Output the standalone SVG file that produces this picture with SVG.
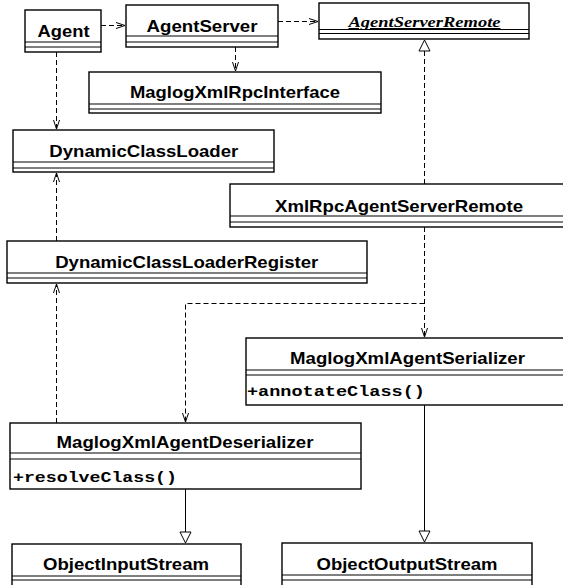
<svg xmlns="http://www.w3.org/2000/svg" width="563" height="585" viewBox="0 0 563 585">
  <style>
    .box { fill: #fff; stroke: #000; stroke-width: 1.4; }
    .sep { stroke: #000; stroke-width: 1.2; fill: none; }
    .name { font-family: "Liberation Sans", Arial, sans-serif; font-weight: bold; font-size: 16.5px; fill: #000; text-anchor: middle; }
    .iface { font-family: "Liberation Serif", "Times New Roman", serif; font-weight: bold; font-style: italic; font-size: 15.5px; fill: #000; text-anchor: middle; text-decoration: underline; }
    .op { font-family: "Liberation Mono", "Courier New", monospace; font-weight: bold; font-size: 15px; fill: #000; }
    .dep { stroke: #000; stroke-width: 1; fill: none; stroke-dasharray: 5 3; }
    .gen { stroke: #000; stroke-width: 1; fill: none; }
  </style>
  <defs>
    <marker id="open" viewBox="-10 -5 11 10" refX="0" refY="0" markerWidth="11" markerHeight="10" markerUnits="userSpaceOnUse" orient="auto" overflow="visible">
      <path d="M-9,-3 L0,0 L-9,3" fill="none" stroke="#000" stroke-width="1"/>
    </marker>
    <marker id="tri" viewBox="-12 -7 13 14" refX="0" refY="0" markerWidth="13" markerHeight="14" markerUnits="userSpaceOnUse" orient="auto" overflow="visible">
      <path d="M0,0 L-11,-5.5 L-11,5.5 Z" fill="#fff" stroke="#000" stroke-width="1"/>
    </marker>
  </defs>

  <!-- connectors -->
  <g id="connectors">
    <path class="dep" d="M101,25.5 H125" marker-end="url(#open)"/>
    <path class="dep" d="M278,21.5 H318" marker-end="url(#open)"/>
    <path class="dep" d="M235.5,47 V71" marker-end="url(#open)"/>
    <path class="dep" d="M56.5,52 V129" marker-end="url(#open)"/>
    <path class="dep" d="M56.5,241 V173" marker-end="url(#open)"/>
    <path class="dep" d="M56.5,423 V284" marker-end="url(#open)"/>
    <path class="dep" d="M424.5,184 V40" marker-end="url(#tri)"/>
    <path class="dep" d="M424.5,227 V337" marker-end="url(#open)"/>
    <path class="dep" d="M424.5,303.5 H185.5 V422" marker-end="url(#open)"/>
    <path class="gen" d="M185.5,489 V543" marker-end="url(#tri)"/>
    <path class="gen" d="M424.5,405 V542" marker-end="url(#tri)"/>
  </g>

  <g id="Agent">
    <rect class="box" x="25" y="10" width="76" height="42"/>
    <path class="sep" d="M25,42 H101 M25,47 H101"/>
    <text class="name" x="63.5" y="37" textLength="52" lengthAdjust="spacingAndGlyphs">Agent</text>
  </g>

  <g id="AgentServer">
    <rect class="box" x="126" y="5" width="152" height="42"/>
    <path class="sep" d="M126,36 H278 M126,42 H278"/>
    <text class="name" x="202" y="32" textLength="111" lengthAdjust="spacingAndGlyphs">AgentServer</text>
  </g>

  <g id="AgentServerRemote">
    <rect class="box" x="319" y="3" width="210" height="36"/>
    <path class="sep" d="M319,29.5 H529 M319,33.5 H529"/>
    <text class="iface" x="424.5" y="27" textLength="152" lengthAdjust="spacingAndGlyphs">AgentServerRemote</text>
  </g>

  <g id="MaglogXmlRpcInterface">
    <rect class="box" x="89" y="72" width="292" height="41"/>
    <path class="sep" d="M89,104 H381 M89,109 H381"/>
    <text class="name" x="235" y="98" textLength="210" lengthAdjust="spacingAndGlyphs">MaglogXmlRpcInterface</text>
  </g>

  <g id="DynamicClassLoader">
    <rect class="box" x="13" y="130" width="261" height="42"/>
    <path class="sep" d="M13,162 H274 M13,168 H274"/>
    <text class="name" x="143.8" y="157" textLength="189" lengthAdjust="spacingAndGlyphs">DynamicClassLoader</text>
  </g>

  <g id="XmlRpcAgentServerRemote">
    <rect class="box" x="230" y="184" width="340" height="43"/>
    <path class="sep" d="M230,216 H570 M230,222 H570"/>
    <text class="name" x="399" y="212" textLength="248" lengthAdjust="spacingAndGlyphs">XmlRpcAgentServerRemote</text>
  </g>

  <g id="DynamicClassLoaderRegister">
    <rect class="box" x="7" y="241" width="360" height="42"/>
    <path class="sep" d="M7,273 H367 M7,278 H367"/>
    <text class="name" x="186.7" y="268" textLength="263" lengthAdjust="spacingAndGlyphs">DynamicClassLoaderRegister</text>
  </g>

  <g id="MaglogXmlAgentSerializer">
    <rect class="box" x="246" y="338" width="324" height="67"/>
    <path class="sep" d="M246,370 H570 M246,375 H570"/>
    <text class="name" x="407.5" y="364" textLength="235" lengthAdjust="spacingAndGlyphs">MaglogXmlAgentSerializer</text>
    <text class="op" x="247" y="396" textLength="178" lengthAdjust="spacingAndGlyphs">+annotateClass()</text>
  </g>

  <g id="MaglogXmlAgentDeserializer">
    <rect class="box" x="10" y="423" width="351" height="66"/>
    <path class="sep" d="M10,453 H361 M10,459 H361"/>
    <text class="name" x="185" y="448" textLength="257" lengthAdjust="spacingAndGlyphs">MaglogXmlAgentDeserializer</text>
    <text class="op" x="13" y="482" textLength="164" lengthAdjust="spacingAndGlyphs">+resolveClass()</text>
  </g>

  <g id="ObjectInputStream">
    <rect class="box" x="12" y="544" width="229" height="50"/>
    <path class="sep" d="M12,576 H241 M12,580 H241"/>
    <text class="name" x="126" y="570" textLength="166" lengthAdjust="spacingAndGlyphs">ObjectInputStream</text>
  </g>

  <g id="ObjectOutputStream">
    <rect class="box" x="282" y="543" width="250" height="50"/>
    <path class="sep" d="M282,575 H532 M282,580 H532"/>
    <text class="name" x="407" y="570" textLength="181" lengthAdjust="spacingAndGlyphs">ObjectOutputStream</text>
  </g>
</svg>
